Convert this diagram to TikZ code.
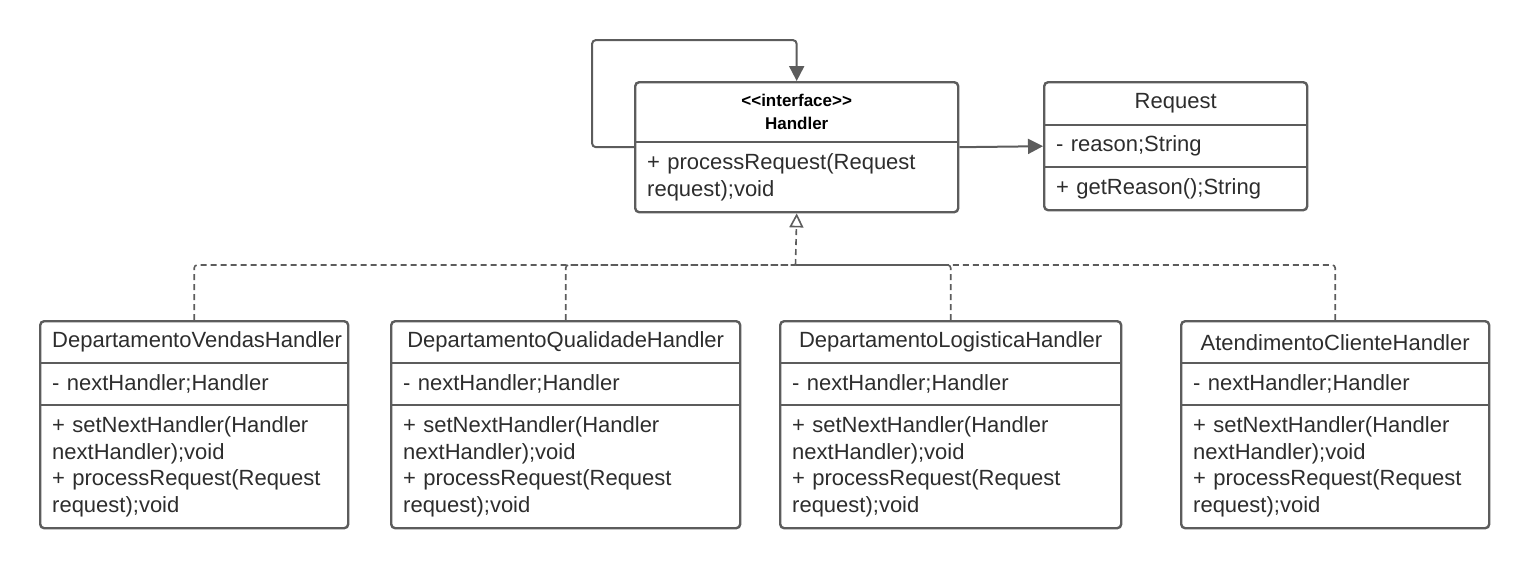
\documentclass[tikz,border=0pt]{standalone}
\usepackage{fontspec}
\setmainfont{Liberation Sans}
\usetikzlibrary{matrix,arrows.meta}

\definecolor{umlline}{RGB}{92,92,92}
\definecolor{umltxt}{RGB}{45,45,45}
\newcommand{\umlfont}{\fontsize{22pt}{26.5pt}\selectfont}
\newcommand{\umlhead}{\fontsize{17pt}{23pt}\selectfont\bfseries}

\begin{document}
\begin{tikzpicture}[x=1pt, y=-1pt]
    \tikzset{umlclass/.style={
        matrix of nodes, draw=umlline, line width=2.4pt, rounded corners=4pt, inner sep=0pt,
        row sep=0pt, column sep=0pt, anchor=north west,
        nodes={font=\umlfont, text=umltxt, inner xsep=12pt, inner ysep=0pt, outer sep=0pt,
          align=left, anchor=center, text width=#1}
      },
      childclass/.style={umlclass=#1,
        row 1/.style={nodes={align=center, minimum height=42pt}},
        row 2/.style={nodes={minimum height=42pt}},
        row 3/.style={nodes={minimum height=123pt}},
      },
      divider/.style={draw=umlline, line width=2pt},
      assoc/.style={draw=umlline, line width=2pt, rounded corners=4pt, -{Triangle[length=15pt, width=15pt]}},
      realize/.style={draw=umlline, line width=1.6pt, dash pattern=on 6pt off 4pt, rounded corners=3pt}
    }

    \useasboundingbox (0,0) rectangle (1527,568);

    \matrix[umlclass=299pt,
      row 1/.style={nodes={align=center, minimum height=60pt, font=\umlhead, text=black}},
      row 2/.style={nodes={minimum height=70pt}}] (handler) at (634,81)
    {
      {<{}<interface>{}>\\Handler}\\
      {+ processRequest(Request\\request);void}\\
    };

    \matrix[umlclass=239pt,
      row 1/.style={nodes={align=center, minimum height=43pt}},
      row 2/.style={nodes={minimum height=42pt}},
      row 3/.style={nodes={minimum height=43pt}}] (request) at (1043,81)
    {
      Request\\
      - reason;String\\
      + getReason();String\\
    };

    \matrix[childclass=284pt] (vendas) at (39,320)
    {
      DepartamentoVendasHandler\\
      - nextHandler;Handler\\
      {+ setNextHandler(Handler\\nextHandler);void\\+ processRequest(Request\\request);void}\\
    };

    \matrix[childclass=325pt] (qualidade) at (390,320)
    {
      DepartamentoQualidadeHandler\\
      - nextHandler;Handler\\
      {+ setNextHandler(Handler\\nextHandler);void\\+ processRequest(Request\\request);void}\\
    };

    \matrix[childclass=317pt] (logistica) at (779,320)
    {
      DepartamentoLogisticaHandler\\
      - nextHandler;Handler\\
      {+ setNextHandler(Handler\\nextHandler);void\\+ processRequest(Request\\request);void}\\
    };

    \matrix[childclass=284pt] (atendimento) at (1180,320)
    {
      AtendimentoClienteHandler\\
      - nextHandler;Handler\\
      {+ setNextHandler(Handler\\nextHandler);void\\+ processRequest(Request\\request);void}\\
    };

    % compartment lines
    \draw[divider] (handler-1-1.south west) -- (handler-1-1.south east);
    \draw[divider] (request-1-1.south west) -- (request-1-1.south east);
    \draw[divider] (request-2-1.south west) -- (request-2-1.south east);
    \draw[divider] (vendas-1-1.south west) -- (vendas-1-1.south east);
    \draw[divider] (vendas-2-1.south west) -- (vendas-2-1.south east);
    \draw[divider] (qualidade-1-1.south west) -- (qualidade-1-1.south east);
    \draw[divider] (qualidade-2-1.south west) -- (qualidade-2-1.south east);
    \draw[divider] (logistica-1-1.south west) -- (logistica-1-1.south east);
    \draw[divider] (logistica-2-1.south west) -- (logistica-2-1.south east);
    \draw[divider] (atendimento-1-1.south west) -- (atendimento-1-1.south east);
    \draw[divider] (atendimento-2-1.south west) -- (atendimento-2-1.south east);

    % associations
    \draw[assoc] (handler.west) -- ++(-42,0) |- ([yshift=41pt]handler.north) -- (handler.north);
    \draw[assoc] (handler.east) -- (request.west);

    % realization
    \coordinate (bus) at (795.5,265);
    \draw[realize] (vendas.north) |- (bus);
    \draw[realize] (qualidade.north) |- (bus);
    \draw[realize] (logistica.north) |- (bus);
    \draw[realize] (atendimento.north) |- (bus);
    \draw[realize, -{Triangle[open, length=14pt, width=14pt]}] (bus) -- (handler.south);
  \end{tikzpicture}
\end{document}
